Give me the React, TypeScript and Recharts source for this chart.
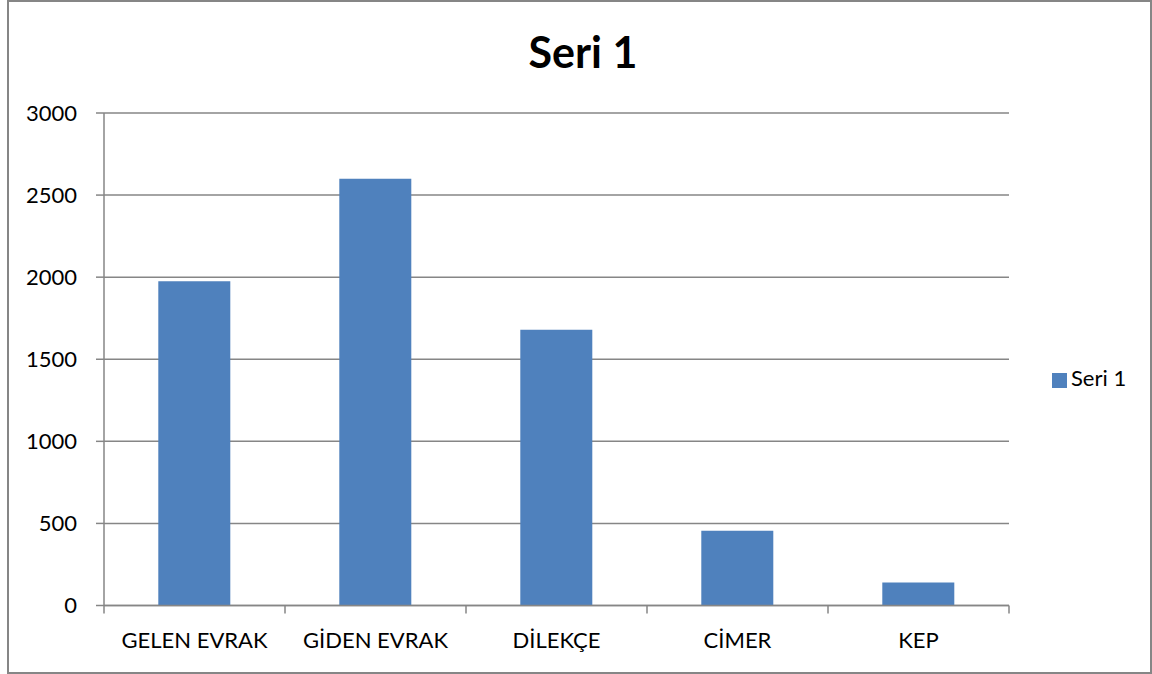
import React from "react";
import {
  BarChart,
  Bar,
  XAxis,
  YAxis,
  CartesianGrid,
  Legend,
} from "recharts";

const categories = ["GELEN EVRAK", "GİDEN EVRAK", "DİLEKÇE", "CİMER", "KEP"];
const seri1 = [1975, 2600, 1680, 455, 140];
const yTicks = [0, 500, 1000, 1500, 2000, 2500, 3000];

const data = categories.map((name, i) => ({ name, seri1: seri1[i] }));

const GRID = "#868686";
const BAR = "#4F81BD";
const FONT = "Lato, 'Open Sans', sans-serif";
const TICK_LEN = 8;

// category label plus the Excel-style tick marks between categories
function CategoryTick(props: any) {
  const { x, y, payload, index, visibleTicksCount } = props;
  const half = payload.offset ?? 0;
  const axisY = y - TICK_LEN;
  const isLast = index === visibleTicksCount - 1;
  return (
    <g>
      <line
        x1={x - half}
        x2={x - half}
        y1={axisY}
        y2={axisY + TICK_LEN}
        stroke={GRID}
        strokeWidth={1.5}
      />
      {isLast && (
        <line
          x1={x + half}
          x2={x + half}
          y1={axisY}
          y2={axisY + TICK_LEN}
          stroke={GRID}
          strokeWidth={1.5}
        />
      )}
      <text
        x={x}
        y={y + 34}
        textAnchor="middle"
        fill="#000"
        fontSize={22}
        fontFamily={FONT}
      >
        {payload.value}
      </text>
    </g>
  );
}

export default function App() {
  return (
    <div
      style={{
        position: "absolute",
        left: 0,
        top: 0,
        width: 1152,
        height: 674,
        background: "#fff",
        fontFamily: FONT,
      }}
    >
      <div
        style={{
          position: "absolute",
          left: 7,
          top: 0,
          width: 1141,
          height: 670,
          border: `2px solid ${GRID}`,
        }}
      />
      <div
        style={{
          position: "absolute",
          left: 0,
          width: 1166,
          top: 26,
          textAlign: "center",
          fontSize: 43,
          fontWeight: 700,
          color: "#000",
        }}
      >
        Seri 1
      </div>
      <BarChart
        width={1152}
        height={674}
        data={data}
        margin={{ top: 113, right: 143, bottom: 8, left: 0 }}
        barCategoryGap="30%"
        style={{ position: "absolute", left: 0, top: 0 }}
      >
        <CartesianGrid vertical={false} stroke={GRID} strokeWidth={1.5} />
        <XAxis
          dataKey="name"
          height={60.5}
          tickLine={false}
          tickSize={TICK_LEN}
          tickMargin={0}
          axisLine={{ stroke: GRID, strokeWidth: 1.5 }}
          tick={<CategoryTick />}
          interval={0}
        />
        <YAxis
          width={104}
          domain={[0, 3000]}
          ticks={yTicks}
          tickSize={TICK_LEN}
          tickMargin={19}
          axisLine={{ stroke: GRID, strokeWidth: 1.5 }}
          tickLine={{ stroke: GRID, strokeWidth: 1.5 }}
          tick={{ fill: "#000", fontSize: 22, fontFamily: FONT }}
        />
        <Bar
          dataKey="seri1"
          name="Seri 1"
          fill={BAR}
          isAnimationActive={false}
        />
        <Legend
          layout="horizontal"
          verticalAlign="middle"
          iconType="square"
          iconSize={15}
          wrapperStyle={{
            left: 1052,
            top: 364,
            width: "auto",
            fontSize: 22,
            color: "#000",
            fontFamily: FONT,
          }}
          formatter={(value) => <span style={{ color: "#000" }}>{value}</span>}
        />
      </BarChart>
    </div>
  );
}
